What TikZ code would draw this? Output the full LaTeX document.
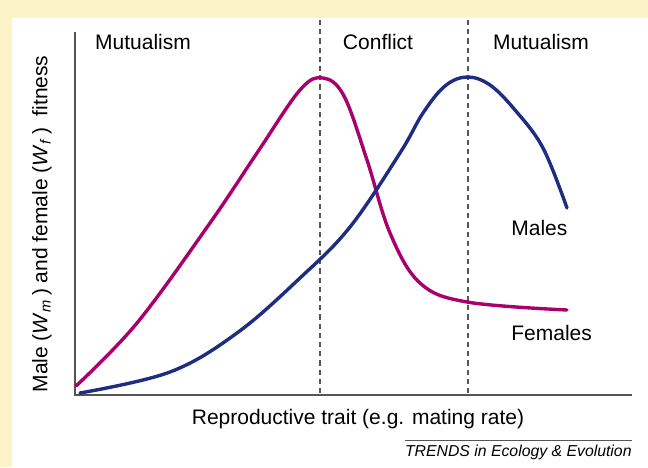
\documentclass[tikz,border=0pt]{standalone}
\usepackage{fontspec}
\setmainfont{Liberation Sans}
\usetikzlibrary{positioning}
\definecolor{bgyellow}{RGB}{253,243,200}
\definecolor{femalecol}{RGB}{168,0,108}
\definecolor{malecol}{RGB}{30,45,128}
\definecolor{axisgray}{RGB}{85,85,85}

\begin{document}
\begin{tikzpicture}[x=0.5pt,y=-0.5pt,
    axis/.style={draw=axisgray,line width=0.6pt},
    divider/.style={draw=axisgray,line width=0.6pt,dash pattern=on 2.6pt off 2pt},
    female/.style={draw=femalecol,line width=1.7pt,line cap=round},
    male/.style={draw=malecol,line width=1.7pt,line cap=round},
    txt/.style={font=\fontsize{10.5}{12}\selectfont,inner sep=0pt}]
    \useasboundingbox (0,0) rectangle (648,467);
    \fill[bgyellow] (0,0) rectangle (648,467);
    \fill[white] (12,18) rectangle (648,467);

    % AXES
    \coordinate (ORIGIN) at (75,395);
    \coordinate (Y_TOP) at (75,32);
    \coordinate (X_END) at (632,395);
    \draw[axis] (Y_TOP) -- (ORIGIN) -- (X_END);

    % DIVIDERS
    \coordinate (DIV_1_TOP) at (320,20);
    \coordinate (DIV_1_BOT) at (320,395);
    \coordinate (DIV_2_TOP) at (468,20);
    \coordinate (DIV_2_BOT) at (468,395);
    \draw[divider] (DIV_1_TOP) -- (DIV_1_BOT);
    \draw[divider] (DIV_2_TOP) -- (DIV_2_BOT);

    % REGIONS
    \node[txt] (MUTUAL_1) at (143,42) {Mutualism};
    \node[txt] (CONFLICT) at (378,42) {Conflict};
    \node[txt] (MUTUAL_2) at (541,42) {Mutualism};

    % CURVES
    \draw[female] plot[smooth,tension=0.6] coordinates {
      (76,386) (137,323) (210,223) (257,153) (300,90) (323,78)
      (344,96) (367,160) (390,233) (420,283) (467,302) (567,310)};
    \draw[male] plot[smooth,tension=0.6] coordinates {
      (80,393) (170,372) (237,333) (300,278) (350,227) (400,153)
      (423,113) (445,86) (467,77) (490,85) (515,110) (543,148) (567,208)};

    \node[txt,anchor=west] (MALES) at (511,228) {Males};
    \node[txt,anchor=west] (FEMALES) at (511,333) {Females};

    % AXIS LABELS
    \node[txt,anchor=base] (X_LABEL) at (358,424)
      {Reproductive trait (e.g. mating rate)};
    \node[txt,rotate=90] (Y_LABEL) at (42,224)
      {Male (\textit{W}\textsubscript{\textit{m}}\,) and female (\textit{W}\textsubscript{\textit{f}}\,)\ \ fitness};

    % SOURCE
    \node[font=\fontsize{7.9}{9}\selectfont\itshape,inner sep=0pt,anchor=base east]
      (SOURCE) at (632,456) {TRENDS in Ecology \& Evolution};
    \draw[axisgray,line width=0.5pt] (405,440) -- (632,440);
\end{tikzpicture}
\end{document}
